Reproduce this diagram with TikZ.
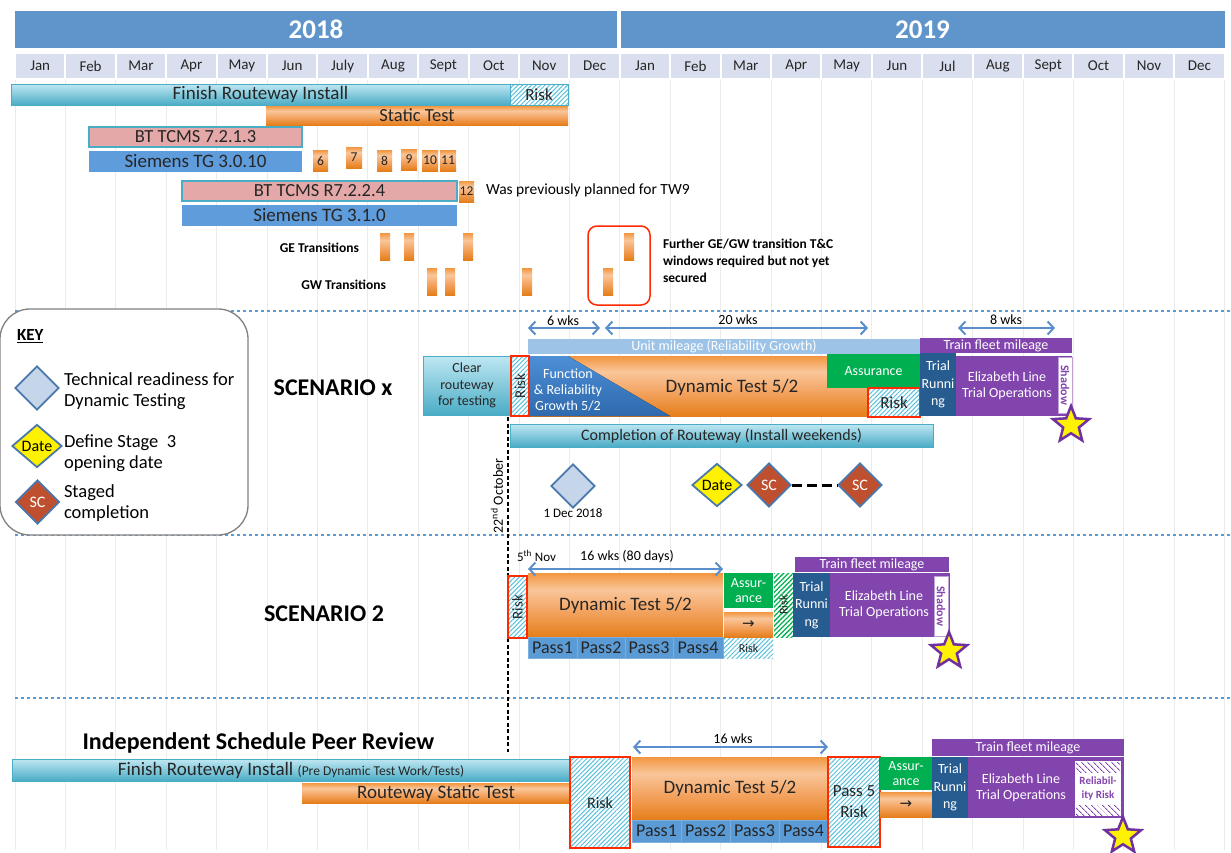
\documentclass[tikz,border=0pt]{standalone}
\usepackage{fontspec}
\setmainfont{Carlito}
\newfontfamily\djv{DejaVu Sans}
\usetikzlibrary{shapes.geometric,arrows.meta,patterns.meta}
\definecolor{yearblue}{HTML}{5F95CB}
\definecolor{monthc}{HTML}{D9DFEE}
\definecolor{gridc}{HTML}{EBEBEB}
\definecolor{cyanT}{HTML}{BFE7F2}
\definecolor{cyanB}{HTML}{4AACC6}
\definecolor{cyanD}{HTML}{4BACC6}
\definecolor{orT}{HTML}{F2963F}
\definecolor{orU}{HTML}{F9C69A}
\definecolor{orM}{HTML}{F3A360}
\definecolor{orB}{HTML}{E57E1A}
\definecolor{pinkc}{HTML}{E5A8A8}
\definecolor{sieblue}{HTML}{5F9CDB}
\definecolor{passblue}{HTML}{5B9BD5}
\definecolor{unitblue}{HTML}{9DC3E6}
\definecolor{purp}{HTML}{8245AE}
\definecolor{trialblue}{HTML}{275C90}
\definecolor{assgreen}{HTML}{00B050}
\definecolor{funcT}{HTML}{4D8FD6}
\definecolor{funcB}{HTML}{2E69AD}
\definecolor{riskred}{HTML}{FF2A00}
\definecolor{hatchc}{HTML}{5BC2DC}
\definecolor{arrowc}{HTML}{5B8FCC}
\definecolor{dashc}{HTML}{5B9BD5}
\definecolor{diaf}{HTML}{C5D5EA}
\definecolor{diab}{HTML}{4A78AC}
\definecolor{scred}{HTML}{BE5030}
\definecolor{starp}{HTML}{7030A0}
\definecolor{txtd}{HTML}{262626}
\pgfdeclareverticalshading{orsh}{100bp}{color(0bp)=(orB); color(25bp)=(orB); color(45bp)=(orM); color(62bp)=(orU); color(75bp)=(orT); color(100bp)=(orT)}
\newcommand{\gbox}[7]{\node[#1, anchor=north west, align=center, minimum width={(#4-#2)*1pt}, minimum height={(#5-#3)*1pt}, inner sep=0pt, outer sep=0pt] (#6) at (#2,#3) {#7};}
\newcommand{\fz}[2]{\fontsize{#1}{#2}\selectfont}
\begin{document}
\begin{tikzpicture}[x=1pt,y=-1pt,
  cyanbar/.style={top color=cyanT, bottom color=cyanB, draw=cyanD, line width=0.8pt, text=txtd},
  orbar/.style={shading=orsh, text=txtd},
  pinkbar/.style={fill=pinkc, draw=cyanD, line width=1.2pt, text=txtd},
  siebar/.style={fill=sieblue, text=txtd},
  riskbox/.style={preaction={fill=white}, pattern={Lines[angle=45,distance=3.2pt,line width=1pt]}, pattern color=hatchc, text=txtd},
  greenrisk/.style={preaction={fill=white}, pattern={Lines[angle=45,distance=3.4pt,line width=1.3pt]}, pattern color=assgreen, text=txtd},
  purphatch/.style={preaction={fill=white}, pattern={Lines[angle=-45,distance=4pt,line width=1pt]}, pattern color=purp},
  redb/.style={draw=riskred, line width=2pt},
  numbox/.style={shading=orsh, text=txtd, font=\fz{13.5}{14}},
  trb/.style={shading=orsh},
  passb/.style={fill=passblue, draw=passblue!80!white, line width=0.6pt, text=txtd, font=\fz{18}{20}},
  diam/.style={diamond, draw=diab, line width=1.8pt, inner sep=0pt, minimum width=44pt, minimum height=44pt},
  wk/.style={arrowc, line width=2.2pt, >={Straight Barb[length=6pt,width=13pt,line width=2pt]}, <->},
  sep/.style={dashc, dashed, line width=1.2pt},
  star5/.style={star, star points=5, star point ratio=2.3, minimum size=38pt, inner sep=0pt, fill=yellow, draw=starp, line width=2.5pt},
  shad/.style={fill=white, draw=purp!50, line width=0.6pt, text=purp, font=\bfseries\fz{12}{13}},
  title/.style={font=\bfseries\fz{24}{26}, text=black},
  lab/.style={inner sep=0pt, outer sep=0pt}
]
\useasboundingbox (0,0) rectangle (1231,852);
\fill[white] (0,0) rectangle (1231,852);

% grid
\foreach \i in {0,...,24} \draw[gridc, line width=0.8pt] ({15+50.4*\i},80) -- ({15+50.4*\i},850);

% years
\node[fill=yearblue, text=white, font=\bfseries\fz{27}{30}, minimum width=602pt, minimum height=37pt, inner sep=0pt] (y2018) at (316,29.5) {2018};
\node[fill=yearblue, text=white, font=\bfseries\fz{27}{30}, minimum width=604pt, minimum height=37pt, inner sep=0pt] (y2019) at (922.5,29.5) {2019};
% months
\foreach [count=\i from 0] \m in {Jan,Feb,Mar,Apr,May,Jun,July,Aug,Sept,Oct,Nov,Dec,Jan,Feb,Mar,Apr,May,Jun,Jul,Aug,Sept,Oct,Nov,Dec}
  \node[fill=monthc, text=txtd, font=\fz{15}{17}, minimum width=48.4pt, minimum height=24pt, inner sep=0pt] (m\i) at ({15+50.4*\i+25.2},66) {\m};

% separators
\draw[sep] (15,311) -- (1231,311);
\draw[sep] (15,535) -- (1231,535);
\draw[sep] (15,698) -- (1231,698);

% ---------- top section
\gbox{cyanbar}{11}{84}{510}{105}{fri}{\fz{19}{21}Finish Routeway Install}
\gbox{riskbox, draw=cyanD, line width=1pt}{510}{84}{568}{105}{risk1}{\fz{17}{19}Risk}
\gbox{orbar}{266}{106}{568}{125}{st}{\fz{18.5}{20}Static Test}
\gbox{pinkbar}{89}{127}{302}{147}{bt1}{\fz{18.5}{20}BT TCMS 7.2.1.3}
\gbox{siebar}{89}{151}{302}{172}{sie1}{\fz{19}{20}Siemens TG 3.0.10}
\gbox{pinkbar}{182}{181}{457}{201}{bt2}{\fz{18.5}{20}BT TCMS R7.2.2.4}
\gbox{siebar}{182}{205}{457}{226}{sie2}{\fz{19}{20}Siemens TG 3.1.0}
\gbox{numbox}{313}{150}{328}{171}{n6}{6}
\gbox{numbox}{346}{147}{362}{168}{n7}{7}
\gbox{numbox}{377}{150}{392}{171}{n8}{8}
\gbox{numbox}{401}{149}{417}{170}{n9}{9}
\gbox{numbox}{422}{150}{438}{171}{n10}{10}
\gbox{numbox}{440}{150}{456}{171}{n11}{11}
\gbox{numbox}{459}{181}{474}{202}{n12}{12}
\node[lab, anchor=west, font=\fz{15.5}{17}, text=black] (prev) at (486,190) {Was previously planned for TW9};

\node[lab, anchor=east, font=\bfseries\fz{13.5}{15}] (getxt) at (359,248) {GE Transitions};
\node[lab, anchor=east, font=\bfseries\fz{13.5}{15}] (gwtxt) at (386,285) {GW Transitions};
\gbox{trb}{380}{233}{390}{260}{ge1}{}
\gbox{trb}{404}{233}{414}{260}{ge2}{}
\gbox{trb}{463}{233}{473}{260}{ge3}{}
\gbox{trb}{624}{233}{634}{260}{ge4}{}
\gbox{trb}{427}{268}{437}{295}{gw1}{}
\gbox{trb}{445}{268}{455}{295}{gw2}{}
\gbox{trb}{522}{268}{532}{295}{gw3}{}
\gbox{trb}{603}{268}{613}{295}{gw4}{}
\gbox{draw=riskred, line width=1.5pt, rounded corners=9pt}{588}{226}{650}{305}{redwin}{}
\node[lab, anchor=north west, align=left, font=\bfseries\fz{13.5}{17}] (further) at (663,239) {Further GE/GW transition T\&C\\windows required but not yet\\secured};

% ---------- key
\gbox{fill=white, draw=gray, line width=1.3pt, rounded corners=30pt}{0}{309}{248}{535}{keybox}{}
\node[lab, anchor=west, font=\bfseries\fz{17}{19}] (keyt) at (17,336) {\underline{KEY}};
\node[diam, fill=diaf] (kd1) at (37,388) {};
\node[diam, fill=yellow, minimum width=50pt, minimum height=43pt, font=\fz{16}{17}] (kd2) at (37,446) {Date};
\node[diam, fill=scred, text=white, font=\fz{16}{17}] (kd3) at (37.5,502) {SC};
\node[lab, anchor=west, align=left, font=\fz{18.5}{21}] (kt1) at (64,391.5) {Technical readiness for\\Dynamic Testing};
\node[lab, anchor=west, align=left, font=\fz{18.5}{21}] (kt2) at (64,453) {Define Stage\ \ 3\\opening date};
\node[lab, anchor=west, align=left, font=\fz{18.5}{21}] (kt3) at (64,503.5) {Staged\\completion};

% ---------- scenario x
\node[title] (scx) at (333,388) {SCENARIO x};
\coordinate (a6l) at (528,328); \coordinate (a6r) at (600,328);
\coordinate (a20l) at (605,328); \coordinate (a20r) at (868,328);
\coordinate (a8l) at (958,328); \coordinate (a8r) at (1055,328);
\draw[wk] (a6l) -- (a6r);
\draw[wk] (a20l) -- (a20r);
\draw[wk] (a8l) -- (a8r);
\node[lab, font=\fz{14}{15}] (t6) at (563,321) {6 wks};
\node[lab, font=\fz{14}{15}] (t20) at (738,320) {20 wks};
\node[lab, font=\fz{14}{15}] (t8) at (1006,320) {8 wks};
\gbox{fill=unitblue, text=white, font=\fz{14}{15}}{528}{339}{920}{354}{unit}{Unit mileage (Reliability Growth)}
\gbox{fill=purp, text=white, font=\fz{14}{15}}{920}{338}{1072}{353}{tfm1}{Train fleet mileage}
\gbox{cyanbar, font=\fz{14}{16.5}}{423}{356}{511}{415}{clear}{Clear\\routeway\\for testing}
\gbox{riskbox, redb}{511}{356}{529}{416}{riskx1}{\fz{15}{16}\rotatebox{90}{Risk}}
\gbox{orbar}{530}{356}{868}{416}{dtx}{}
\fill[top color=funcT, bottom color=funcB] (530,356) -- (568,356) -- (670,416) -- (530,416) -- cycle;
\node[lab, text=white, align=center, font=\fz{14}{16}] (func) at (568,390) {Function\\\& Reliability\\Growth 5/2};
\node[lab, text=txtd, font=\fz{19}{20}] (dtxt) at (732,387) {Dynamic Test 5/2};
\gbox{fill=assgreen, text=white, font=\fz{14}{15}}{827}{354}{920}{388}{assx}{Assurance}
\gbox{riskbox, redb, font=\fz{17}{18}}{868}{388}{920}{417}{riskx2}{Risk}
\gbox{fill=trialblue, text=white, font=\fz{14}{17.5}}{920}{353}{956}{416}{trialx}{Trial\\Runni\\ng}
\gbox{fill=purp, text=white, font=\fz{14}{16}}{956}{356}{1072}{416}{elx}{\hspace*{-14pt}Elizabeth Line\\\hspace*{-14pt}Trial Operations}
\gbox{shad}{1058}{357}{1072}{413}{shx}{\rotatebox{-90}{Shadow}}
\node[star5] (starx) at (1071,425) {};
\gbox{cyanbar, font=\fz{16}{18}}{510}{424}{933}{447}{compl}{Completion of Routeway (Install weekends)}
\coordinate (oct1) at (508,417); \coordinate (oct2) at (508,752);
\draw[black, line width=1.2pt, dash pattern=on 4pt off 2.5pt] (oct1) -- (oct2);
\node[lab, rotate=90, font=\fz{14}{15}] (octt) at (497,496) {22\textsuperscript{nd} October};
\node[diam, fill=diaf] (d1) at (573,486) {};
\node[lab, font=\fz{13}{14}] (d1t) at (573,513) {1 Dec 2018};
\node[diam, fill=yellow, minimum width=50pt, minimum height=43pt, font=\fz{16}{17}] (ddate) at (717,485) {Date};
\node[diam, fill=scred, text=white, font=\fz{16}{17}] (sc1) at (769,485) {SC};
\node[diam, fill=scred, text=white, font=\fz{16}{17}] (sc2) at (860,485) {SC};
\draw[black, line width=3pt, dash pattern=on 10pt off 5pt] (sc1) -- (sc2);

% ---------- scenario 2
\node[title] (sc2t) at (324,614) {SCENARIO 2};
\node[lab, anchor=west, font=\fz{13}{14}] (nov5) at (517,556) {5\textsuperscript{th} Nov};
\node[lab, font=\fz{14}{15}] (t16a) at (627,556) {16 wks (80 days)};
\coordinate (b16l) at (528,569); \coordinate (b16r) at (723,569);
\gbox{riskbox, redb}{508}{576}{527}{638}{risk21}{\fz{15}{16}\rotatebox{90}{Risk}}
\gbox{orbar, font=\fz{19}{20}}{528}{573}{723}{637}{dt2}{Dynamic Test 5/2}
\draw[wk] (b16l) -- (b16r);
\gbox{passb}{528}{637}{577}{658}{p21}{Pass1}
\gbox{passb}{577}{637}{625}{658}{p22}{Pass2}
\gbox{passb}{625}{637}{673}{658}{p23}{Pass3}
\gbox{passb}{673}{637}{723}{658}{p24}{Pass4}
\gbox{fill=assgreen, text=white, font=\fz{14}{15}}{724}{573}{773}{608}{ass2}{Assur-\\ance}
\gbox{orbar}{724}{612}{773}{637}{arr2}{{\djv\fz{15}{16}→}}
\gbox{riskbox, font=\fz{12}{13}}{724}{638}{773}{658}{risk22}{Risk}
\gbox{greenrisk}{774}{573}{793}{637}{risk23}{\fz{12}{13}\rotatebox{90}{Risk}}
\gbox{fill=purp, text=white, font=\fz{14}{15}}{795}{557}{949}{572}{tfm2}{Train fleet mileage}
\gbox{fill=trialblue, text=white, font=\fz{14}{17.5}}{793}{573}{830}{637}{trial2}{Trial\\Runni\\ng}
\gbox{fill=purp, text=white, font=\fz{14}{16}}{830}{573}{950}{637}{el2}{\hspace*{-12pt}Elizabeth Line\\\hspace*{-12pt}Trial Operations}
\gbox{shad}{934}{576}{948}{636}{sh2}{\rotatebox{-90}{Shadow}}
\node[star5] (star2) at (949,651) {};

% ---------- peer review
\node[title, anchor=west] (isp) at (79,743) {Independent Schedule Peer Review};
\gbox{cyanbar}{12}{759}{570}{781}{fri3}{\fz{19}{21}Finish Routeway Install {\fz{13.5}{15}(Pre Dynamic Test Work/Tests)}}
\gbox{orbar}{302}{783}{570}{803}{rst}{\fz{19}{20}Routeway Static Test}
\gbox{riskbox, redb, font=\fz{16}{17}}{570}{757}{630}{848}{risk31}{Risk}
\gbox{orbar, font=\fz{19}{20}}{632}{757}{828}{820}{dt3}{Dynamic Test 5/2}
\gbox{passb}{632}{820}{681}{842}{p31}{Pass1}
\gbox{passb}{681}{820}{730}{842}{p32}{Pass2}
\gbox{passb}{730}{820}{779}{842}{p33}{Pass3}
\gbox{passb}{779}{820}{828}{842}{p34}{Pass4}
\coordinate (c16l) at (633,747); \coordinate (c16r) at (828,747);
\draw[wk] (c16l) -- (c16r);
\node[lab, font=\fz{14}{15}] (t16b) at (733,739) {16 wks};
\gbox{riskbox, redb, font=\fz{17}{21}}{828}{757}{880}{847}{risk32}{Pass 5\\Risk}
\gbox{fill=assgreen, text=white, font=\fz{14}{15}}{880}{757}{932}{790}{ass3}{Assur-\\ance}
\gbox{orbar}{880}{792}{932}{817}{arr3}{{\djv\fz{15}{16}→}}
\gbox{fill=purp, text=white, font=\fz{14}{15}}{932}{739}{1124}{756}{tfm3}{Train fleet mileage}
\gbox{fill=trialblue, text=white, font=\fz{14}{17.5}}{932}{757}{968}{818}{trial3}{Trial\\Runni\\ng}
\gbox{fill=purp, text=white, font=\fz{14}{16}}{968}{757}{1124}{818}{el3}{\hspace*{-50pt}Elizabeth Line\\\hspace*{-50pt}Trial Operations}
\gbox{fill=white, draw=purp, line width=1.5pt}{1074}{760}{1122}{817}{rel3}{}
\gbox{purphatch}{1076}{762}{1120}{772}{relh1}{}
\gbox{purphatch}{1076}{805}{1120}{815}{relh2}{}
\node[lab, align=center, text=purp, font=\bfseries\fz{11}{14}] (relt) at (rel3.center) {Reliabil-\\ity Risk};
\node[star5] (star3) at (1123,836) {};
\end{tikzpicture}
\end{document}
